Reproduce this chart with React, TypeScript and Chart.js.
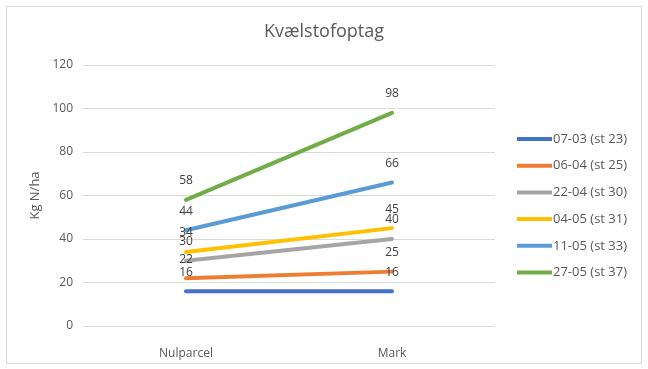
import React, { useEffect, useRef } from "react";
import { Chart, registerables } from "chart.js";

Chart.register(...registerables);

const categories = ["Nulparcel", "Mark"];
const seriesNames = ["07-03 (st 23)", "06-04 (st 25)", "22-04 (st 30)", "04-05 (st 31)", "11-05 (st 33)", "27-05 (st 37)"];
const s0703 = [16, 16];
const s0604 = [22, 25];
const s2204 = [30, 40];
const s0405 = [34, 45];
const s1105 = [44, 66];
const s2705 = [58, 98];
const seriesValues = [s0703, s0604, s2204, s0405, s1105, s2705];
const seriesColors = ["#4472C4", "#ED7D31", "#A5A5A5", "#FFC000", "#5B9BD5", "#70AD47"];
const chartTitle = "Kvælstofoptag";
const yTitle = "Kg N/ha";

const FONT = "'Open Sans', 'Noto Sans', sans-serif";

const labelPlugin = {
  id: "valueLabels",
  afterDatasetsDraw(chart: any) {
    const ctx = chart.ctx;
    ctx.save();
    ctx.font = `12px ${FONT}`;
    ctx.fillStyle = "#404040";
    ctx.textAlign = "center";
    ctx.textBaseline = "middle";
    chart.data.datasets.forEach((ds: any, i: number) => {
      const meta = chart.getDatasetMeta(i);
      meta.data.forEach((pt: any, j: number) => {
        ctx.fillText(String(ds.data[j]), pt.x, pt.y - 19);
      });
    });
    ctx.restore();
  },
};

const titleAndLegendPlugin = {
  id: "titleAndLegend",
  afterDraw(chart: any) {
    const ctx = chart.ctx;
    ctx.save();
    // title centred over the whole chart
    ctx.font = `18px ${FONT}`;
    ctx.fillStyle = "#595959";
    ctx.textAlign = "center";
    ctx.textBaseline = "middle";
    ctx.fillText(chartTitle, chart.width / 2, 25);

    // legend on the right
    const x0 = chart.chartArea.right + 22;
    const y0 = 132;
    const step = 26.7;
    ctx.font = `13px ${FONT}`;
    ctx.textAlign = "left";
    chart.data.datasets.forEach((ds: any, i: number) => {
      const y = y0 + i * step;
      ctx.strokeStyle = ds.borderColor;
      ctx.lineWidth = 4;
      ctx.lineCap = "butt";
      ctx.beginPath();
      ctx.moveTo(x0, y);
      ctx.lineTo(x0 + 35, y);
      ctx.stroke();
      ctx.fillStyle = "#595959";
      ctx.fillText(ds.label, x0 + 36, y);
    });
    ctx.restore();
  },
};

export default function App() {
  const ref = useRef<HTMLCanvasElement>(null);
  useEffect(() => {
    if (!ref.current) return;
    const n = seriesNames.length;
    const chart = new Chart(ref.current, {
      type: "line",
      data: {
        labels: categories,
        datasets: seriesNames.map((name, i) => ({
          label: name,
          data: seriesValues[i],
          borderColor: seriesColors[i],
          backgroundColor: seriesColors[i],
          borderWidth: 4,
          borderCapStyle: "round",
          pointRadius: 0,
          pointHoverRadius: 0,
          order: n - i,
        })),
      },
      options: {
        responsive: false,
        maintainAspectRatio: false,
        animation: false,
        layout: { padding: { left: 0, right: 146, top: 58, bottom: 0 } },
        plugins: {
          legend: { display: false },
          tooltip: { enabled: false },
          title: { display: false },
        },
        scales: {
          x: {
            offset: true,
            grid: { display: false },
            border: { display: false },
            ticks: { color: "#595959", font: { family: FONT, size: 12 }, padding: 12 },
            afterFit: (s: any) => {
              s.height = 37;
            },
          },
          y: {
            min: 0,
            max: 120,
            ticks: { stepSize: 20, color: "#595959", font: { family: FONT, size: 12 }, padding: 10 },
            grid: { color: "#d9d9d9", drawTicks: false, lineWidth: 1 },
            border: { display: false },
            title: {
              display: true,
              text: yTitle,
              color: "#595959",
              font: { family: FONT, size: 13, weight: "normal" },
              padding: { top: 20, bottom: 0 },
            },
            afterFit: (s: any) => {
              s.width = 76;
            },
          },
        },
      },
      plugins: [labelPlugin, titleAndLegendPlugin],
    });
    return () => chart.destroy();
  }, []);

  return (
    <div style={{ position: "fixed", left: 0, top: 0, width: 648, height: 369, background: "#fff" }}>
      <div
        style={{
          position: "absolute",
          left: 6,
          top: 6,
          width: 636,
          height: 358,
          boxSizing: "border-box",
          border: "1px solid #d9d9d9",
        }}
      >
        <canvas ref={ref} width={634} height={356} style={{ display: "block", width: 634, height: 356 }} />
      </div>
    </div>
  );
}
